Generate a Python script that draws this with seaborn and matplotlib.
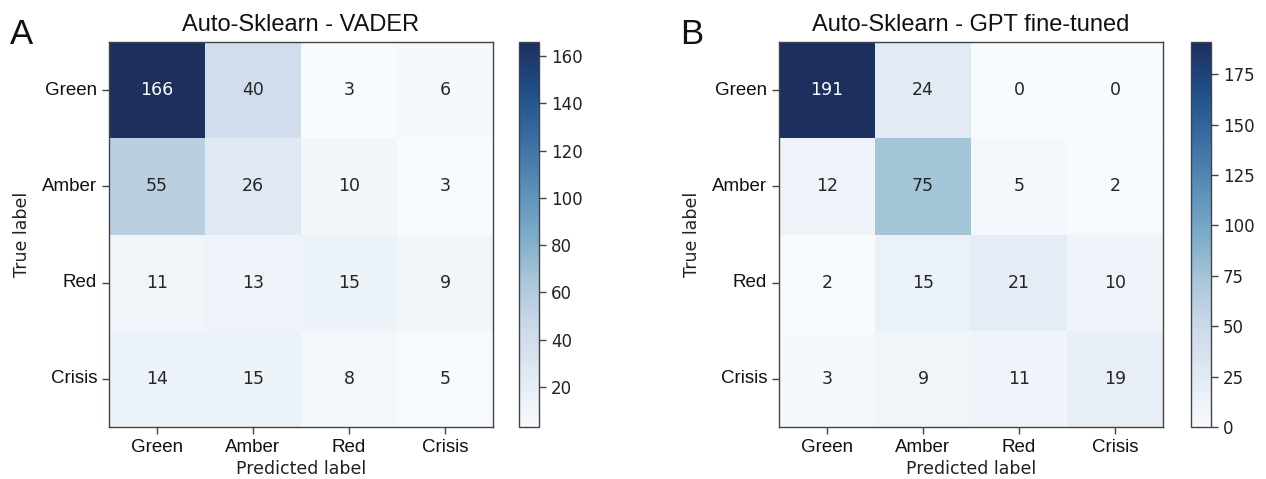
import numpy as np
import matplotlib
matplotlib.use("Agg")
import matplotlib.pyplot as plt
from matplotlib.colors import LinearSegmentedColormap
import seaborn as sns

classes = ["Green", "Amber", "Red", "Crisis"]

vader_cm = [
    [166, 40, 3, 6],
    [55, 26, 10, 3],
    [11, 13, 15, 9],
    [14, 15, 8, 5],
]

gpt_cm = [
    [191, 24, 0, 0],
    [12, 75, 5, 2],
    [2, 15, 21, 10],
    [3, 9, 11, 19],
]

panels = [
    ("A", "Auto-Sklearn - VADER", vader_cm),
    ("B", "Auto-Sklearn - GPT fine-tuned", gpt_cm),
]

# A slightly muted version of the "Blues" palette
base = plt.get_cmap("Blues")(np.linspace(0, 1, 256))[:, :3]
lum = (base @ np.array([0.299, 0.587, 0.114]))[:, None]
muted = base * 0.78 + lum * 0.22
muted[:, 0] = np.clip(muted[:, 0] + 0.05 * np.linspace(0, 1, 256), 0, 1)
cmap = LinearSegmentedColormap.from_list("muted_blues", muted)

W, H = 1266, 479
fig = plt.figure(figsize=(W / 100, H / 100), dpi=100)

SANS = ["Liberation Sans", "DejaVu Sans"]

ax_left_px = [109, 779]
cbar_left_px = [519, 1191]
ax_w_px = 384
top_px, bot_px = 42, 427

for i, (letter, title, cm) in enumerate(panels):
    ax = fig.add_axes([ax_left_px[i] / W, 1 - bot_px / H, ax_w_px / W, (bot_px - top_px) / H])
    cax = fig.add_axes([cbar_left_px[i] / W, 1 - bot_px / H, 20 / W, (bot_px - top_px) / H])
    data = np.array(cm)
    sns.heatmap(
        data, ax=ax, cbar_ax=cax, cmap=cmap, annot=True, fmt="d",
        annot_kws={"fontsize": 12.5, "family": "DejaVu Sans"},
        xticklabels=classes, yticklabels=classes, linewidths=0,
    )
    for s in ax.spines.values():
        s.set_visible(True)
        s.set_color("#444444")
        s.set_linewidth(1.0)
    ax.tick_params(axis="both", length=5, width=1, color="#444444", labelsize=13.5, labelcolor="#111111")
    ax.set_yticklabels(classes, rotation=0)
    ax.set_xticklabels(classes, rotation=0)
    for lab in ax.get_xticklabels() + ax.get_yticklabels():
        lab.set_family(SANS)
    ax.set_xlabel("Predicted label", fontsize=12.5, color="#222222", labelpad=3)
    ax.set_ylabel("True label", fontsize=12.5, color="#222222", labelpad=8)
    ax.set_title(title, fontsize=17, family=SANS, color="#111111", pad=8)
    fig.text((ax_left_px[i] - 99) / W, 1 - 44 / H, letter, fontsize=25, family=SANS, color="#111111")

    cax.tick_params(labelsize=12, length=5, width=1, color="#444444", labelcolor="#222222")
    cbar = ax.collections[0].colorbar
    cbar.outline.set_visible(True)
    cbar.outline.set_edgecolor("#444444")
    cbar.outline.set_linewidth(1.0)

fig.savefig("out.png", dpi=100)
